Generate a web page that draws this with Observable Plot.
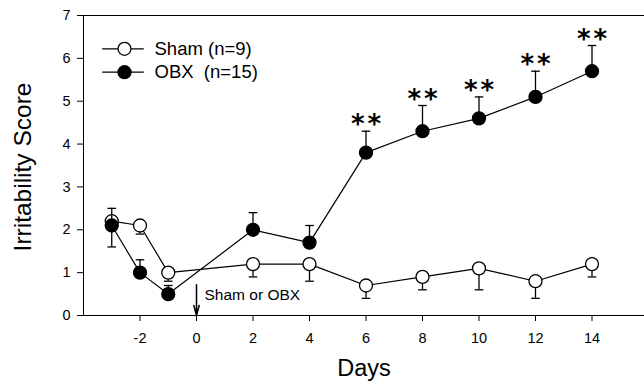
<!DOCTYPE html>
<html><head><meta charset="utf-8">
<script src="https://cdn.jsdelivr.net/npm/d3@7"></script>
<script src="https://cdn.jsdelivr.net/npm/@observablehq/plot@0.6"></script>
<style>body{margin:0;background:#fff;} #chart svg{display:block}</style>
</head><body><div id="chart"></div>
<script>
// ---- data ----
const days = [-3, -2, -1, 2, 4, 6, 8, 10, 12, 14];
const shamMean = [2.2, 2.1, 1.0, 1.2, 1.2, 0.7, 0.9, 1.1, 0.8, 1.2];
const shamLow  = [1.6, 1.9, 0.8, 0.9, 0.8, 0.4, 0.6, 0.6, 0.4, 0.9];
const obxMean  = [2.1, 1.0, 0.5, 2.0, 1.7, 3.8, 4.3, 4.6, 5.1, 5.7];
const obxHigh  = [2.5, 1.3, 0.7, 2.4, 2.1, 4.3, 4.9, 5.1, 5.7, 6.3];
const sigDays = [6, 8, 10, 12, 14];
const xTicks = [-2, 0, 2, 4, 6, 8, 10, 12, 14];
const yTicks = [0, 1, 2, 3, 4, 5, 6, 7];
const seriesLabels = ["Sham (n=9)", "OBX\u00a0 (n=15)"];
const seriesFill = ["white", "black"];
const surgery = [{day: 0, top: 0.72, label: "Sham or OBX"}];
const xTitle = "Days";
const yTitle = "Irritability Score";

// ---- tables ----
const sham = days.map((d, i) => ({day: d, mean: shamMean[i], err: shamLow[i]}));
const obx = days.map((d, i) => ({day: d, mean: obxMean[i], err: obxHigh[i]}));
const sig = obx.filter(d => sigDays.includes(d.day));

const hline = hw => ({draw(ctx) { ctx.moveTo(-hw, 0); ctx.lineTo(hw, 0); }});
const cap = hline(4.3);
const legendLine = hline(20.8);
const fmt = d => String(d);

const legendMarks = seriesLabels.flatMap((lab, i) => {
  const dy = 33.3 + i * 23.4;
  return [
    Plot.dot([lab], {frameAnchor: "top-left", dx: 39.5, dy, symbol: legendLine, r: 5, fill: "none", stroke: "black", strokeWidth: 1.2}),
    Plot.dot([lab], {frameAnchor: "top-left", dx: 41, dy, r: 6.5, fill: seriesFill[i], stroke: "black", strokeWidth: 1.3}),
    Plot.text([lab], {frameAnchor: "top-left", dx: 71, dy, text: d => d, textAnchor: "start", lineAnchor: "middle", fontSize: 18.5})
  ];
});

const starStyle = {x: "day", y: "err", text: () => "*", dy: 2, lineAnchor: "bottom", fontSize: 26, fontWeight: "bold", fontFamily: "DejaVu Sans"};

const chart = Plot.plot({
  width: 644,
  height: 382,
  marginTop: 15,
  marginBottom: 67,
  marginLeft: 83,
  marginRight: 0,
  style: {fontFamily: "'Liberation Sans', Arial, sans-serif", color: "black", background: "white"},
  x: {domain: [-4, 16], range: [83, 648]},
  y: {domain: [0, 7]},
  marks: [
    Plot.frame({stroke: "black", strokeWidth: 1}),
    Plot.axisX({ticks: xTicks, tickFormat: fmt, tickSize: 6, tickPadding: 11, fontSize: 14.5, label: null}),
    Plot.axisY({ticks: yTicks, tickFormat: fmt, tickSize: 6, tickPadding: 7, fontSize: 14.5, label: null}),
    Plot.text([xTitle], {frameAnchor: "bottom", dy: 60, textAnchor: "middle", lineAnchor: "bottom", fontSize: 23.5}),
    Plot.text([yTitle], {frameAnchor: "left", dx: -69.5, dy: 1.5, rotate: -90, textAnchor: "middle", lineAnchor: "top", fontSize: 24.5}),
    // surgery arrow
    Plot.arrow(surgery, {x1: "day", x2: "day", y1: "top", y2: () => 0, headAngle: 30, headLength: 12, stroke: "black", strokeWidth: 1.5}),
    Plot.text(surgery, {x: "day", y: () => 0.37, text: "label", dx: 8, textAnchor: "start", lineAnchor: "bottom", fontSize: 15.5}),
    // Sham
    Plot.line(sham, {x: "day", y: "mean", stroke: "black", strokeWidth: 1.2}),
    Plot.ruleX(sham, {x: "day", y1: "mean", y2: "err", stroke: "black", strokeWidth: 1.3}),
    Plot.dot(sham, {x: "day", y: "err", symbol: cap, r: 4, fill: "none", stroke: "black", strokeWidth: 1.3}),
    Plot.dot(sham, {x: "day", y: "mean", r: 6.5, fill: "white", stroke: "black", strokeWidth: 1.3}),
    // OBX
    Plot.line(obx, {x: "day", y: "mean", stroke: "black", strokeWidth: 1.2}),
    Plot.ruleX(obx, {x: "day", y1: "mean", y2: "err", stroke: "black", strokeWidth: 1.3}),
    Plot.dot(obx, {x: "day", y: "err", symbol: cap, r: 4, fill: "none", stroke: "black", strokeWidth: 1.3}),
    Plot.dot(obx, {x: "day", y: "mean", r: 6.5, fill: "black", stroke: "black", strokeWidth: 1.3}),
    // significance stars
    Plot.text(sig, {...starStyle, dx: -8.3}),
    Plot.text(sig, {...starStyle, dx: 8.3}),
    ...legendMarks
  ]
});
document.getElementById("chart").append(chart);
</script>
</body></html>
